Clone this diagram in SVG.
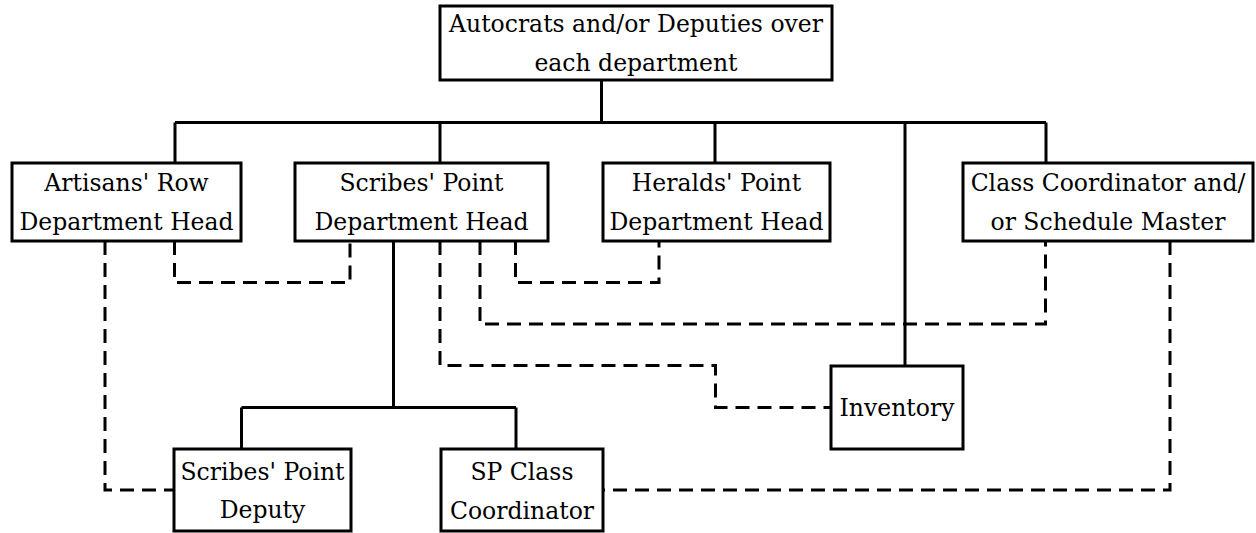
<svg xmlns="http://www.w3.org/2000/svg" width="1256" height="533" viewBox="0 0 1256 533">
<style>
.box{fill:#fff;stroke:#000;stroke-width:3}
.t{font-family:"DejaVu Serif","Liberation Serif",serif;font-size:23.5px;fill:#000;text-anchor:middle}
.solid{fill:none;stroke:#000;stroke-width:3}
.dash{fill:none;stroke:#000;stroke-width:3;stroke-dasharray:14 8}
</style>
<rect width="1256" height="533" fill="#fff"/>
<g id="connectors">
<path class="solid" d="M601.5 80V122.5M175 122.5H1046M175 122.5V163M440 122.5V163M715 122.5V163M905 122.5V366M1046 122.5V163"/>
<path class="solid" d="M393.5 241V407.5M241.5 407.5H516M241.5 407.5V449M516 407.5V449"/>
<path class="dash" d="M105 241V490H174"/>
<path class="dash" d="M174.5 241V282.5H350V241"/>
<path class="dash" d="M440 241V365.5H715.5V407.5H831"/>
<path class="dash" d="M480 241V324H1045.5V241"/>
<path class="dash" d="M515.5 241V282.5H659V241"/>
<path class="dash" d="M1170 241V490H603"/>
</g>
<g id="autocrats">
<rect class="box" x="440" y="6" width="392" height="74"/>
<text class="t" x="636" y="32">Autocrats and/or Deputies over</text>
<text class="t" x="636" y="71">each department</text>
</g>
<g id="artisans">
<rect class="box" x="12" y="163" width="229" height="78"/>
<text class="t" x="126.5" y="191">Artisans' Row</text>
<text class="t" x="126.5" y="230">Department Head</text>
</g>
<g id="scribes">
<rect class="box" x="295" y="163" width="253" height="78"/>
<text class="t" x="421.5" y="191">Scribes' Point</text>
<text class="t" x="421.5" y="230">Department Head</text>
</g>
<g id="heralds">
<rect class="box" x="603" y="163" width="227" height="78"/>
<text class="t" x="716.5" y="191">Heralds' Point</text>
<text class="t" x="716.5" y="230">Department Head</text>
</g>
<g id="classcoord">
<rect class="box" x="963" y="163" width="290" height="78"/>
<text class="t" x="1108" y="191">Class Coordinator and/</text>
<text class="t" x="1108" y="230">or Schedule Master</text>
</g>
<g id="inventory">
<rect class="box" x="831" y="366" width="132" height="83"/>
<text class="t" x="897" y="416">Inventory</text>
</g>
<g id="deputy">
<rect class="box" x="174" y="449" width="177" height="82"/>
<text class="t" x="262.5" y="480">Scribes' Point</text>
<text class="t" x="262.5" y="518">Deputy</text>
</g>
<g id="spclass">
<rect class="box" x="441" y="449" width="162" height="82"/>
<text class="t" x="522" y="480">SP Class</text>
<text class="t" x="522" y="519">Coordinator</text>
</g>
</svg>
